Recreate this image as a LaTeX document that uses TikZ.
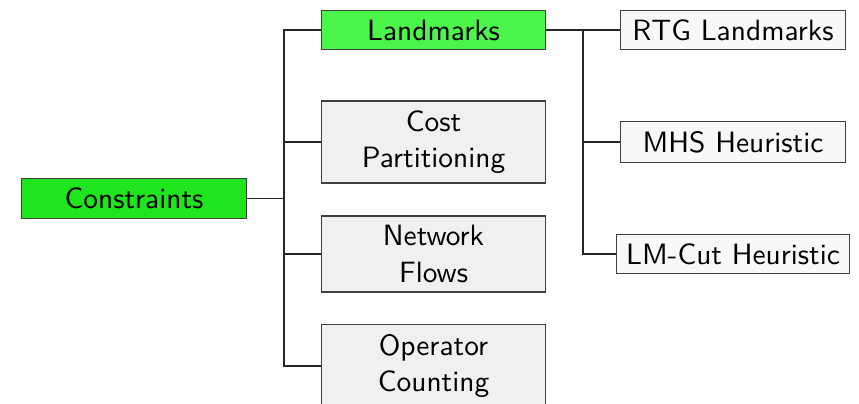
\documentclass[tikz,border=0pt]{standalone}
\usetikzlibrary{positioning}
\definecolor{rootgreen}{HTML}{1EE51E}
\definecolor{leafgreen}{HTML}{4CF54C}
\definecolor{boxgray}{HTML}{F0F0F0}
\definecolor{boxwhite}{HTML}{F8F8F8}
\definecolor{edgegray}{HTML}{404040}

\begin{document}
\begin{tikzpicture}[
    node distance=1.4cm, on grid,
    block/.style={rectangle, draw=edgegray, fill=boxgray, minimum width=2.81cm, minimum height=0.49cm, align=center, font=\sffamily\fontsize{10.45pt}{13pt}\selectfont},
    root/.style={block, fill=rootgreen},
    hot/.style={block, fill=leafgreen},
    leaf/.style={block, fill=boxwhite},
    line/.style={draw, black!85}
]
\useasboundingbox (0,0) rectangle (10.7375,-5.0375);

% Nodes
\node [root] (constraints) at (1.675,-2.48) {Constraints};
\node [hot] (landmarks) at (5.419,-0.375) {Landmarks};
\node [block, below=of landmarks] (costpart) {Cost\\Partitioning};
\node [block, below=of costpart] (netflows) {Network\\Flows};
\node [block, below=of netflows] (opcount) {Operator\\Counting};
\node [leaf] (rtg) at (9.1625,-0.375) {RTG Landmarks};
\node [leaf, below=of rtg] (mhs) {MHS Heuristic};
\node [leaf, below=of mhs] (lmcut) {LM-Cut Heuristic};

% Junctions
\coordinate (hub) at (3.55,-2.48);
\coordinate (lmhub) at (7.2875,-0.375);

% Connectors
\path [line] (constraints) -- (hub);
\path [line] (hub) |- (landmarks.west);
\path [line] (hub) |- (costpart.west);
\path [line] (hub) |- (netflows.west);
\path [line] (hub) |- (opcount.west);
\path [line] (landmarks) -- (lmhub);
\path [line] (lmhub) -- (rtg.west);
\path [line] (lmhub) |- (mhs.west);
\path [line] (lmhub) |- (lmcut.west);

\end{tikzpicture}
\end{document}
